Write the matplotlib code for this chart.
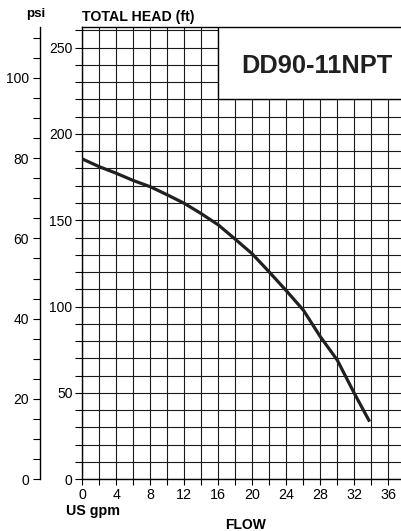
import matplotlib.pyplot as plt
from matplotlib.patches import Rectangle
from matplotlib.ticker import MultipleLocator

plt.rcParams['font.family'] = ['Liberation Sans', 'DejaVu Sans']

# pump curve
flow_gpm = [0, 2, 4, 6, 8, 10, 12, 14, 16, 18, 20, 22, 24, 26, 28, 30, 32, 33.8]
head_ft = [185.5, 181, 177.2, 173, 169.4, 164.7, 159.8, 153.8, 147.3, 139, 130.5, 120, 109.2, 98, 82.6, 69, 49.8, 33.4]

x_ticks = [0, 4, 8, 12, 16, 20, 24, 28, 32, 36]
ft_ticks = [0, 50, 100, 150, 200, 250]
psi_ticks = [0, 20, 40, 60, 80, 100]
ft_per_psi = 2.325
model = "DD90-11NPT"

W, H = 401, 531
fig = plt.figure(figsize=(W / 100, H / 100), dpi=100)

# axes placement in pixels
left_px, right_px, top_px, bot_px = 82.3, 401, 26.7, 479.3
ax = fig.add_axes([left_px / W, 1 - bot_px / H, (right_px - left_px) / W, (bot_px - top_px) / H])
ax.set_xlim(0, (right_px - left_px) / 8.5)
ax.set_ylim(0, (bot_px - top_px) / 1.727)

ax.xaxis.set_minor_locator(MultipleLocator(2))
ax.set_xticks(x_ticks)
ax.yaxis.set_minor_locator(MultipleLocator(10))
ax.set_yticks(ft_ticks)
ax.tick_params(axis='x', which='both', length=4, width=0.8, pad=2.5, labelsize=10.3)
ax.tick_params(axis='y', which='both', length=5, width=0.8, pad=2, labelsize=10)
ax.grid(which='both', color='#1a1a1a', linewidth=0.8)
ax.set_axisbelow(True)

for s in ['left', 'bottom', 'top']:
    ax.spines[s].set_linewidth(1.0)
    ax.spines[s].set_color('black')
ax.spines['right'].set_visible(False)

# model name box covers the grid in the top right
box = Rectangle((16, 220), 40, 80, facecolor='white', edgecolor='black',
                linewidth=1.0, zorder=2)
ax.add_patch(box)

ax.plot(flow_gpm, head_ft, color='#231f20', linewidth=2.3, solid_capstyle='butt', zorder=3)

# psi scale on a separate spine
psi_loc = -(left_px - 40) / (right_px - left_px)
sec = ax.secondary_yaxis(psi_loc, functions=(lambda f: f / ft_per_psi, lambda p: p * ft_per_psi))
sec.set_yticks(psi_ticks)
sec.yaxis.set_minor_locator(MultipleLocator(5))
sec.tick_params(which='both', length=5, width=0.8, pad=3, labelsize=10)
sec.spines['left'].set_linewidth(1.0)

# labels
fig.text(36 / W, 1 - 16.7 / H, "psi", ha='center', va='baseline', fontsize=9.6, fontweight='bold')
fig.text(left_px / W, 1 - 20.7 / H, "TOTAL HEAD (ft)", ha='left', va='baseline', fontsize=10.2, fontweight='bold')
fig.text(316.7 / W, 1 - 73.3 / H, model, ha='center', va='baseline', fontsize=18.3, fontweight='bold', color='#231f20')
fig.text(65.7 / W, 1 - 515.5 / H, "US gpm", ha='left', va='baseline', fontsize=10.3, fontweight='bold')
fig.text(246 / W, 1 - 529 / H, "FLOW", ha='center', va='baseline', fontsize=10, fontweight='bold')

fig.savefig('out.png', dpi=100)
